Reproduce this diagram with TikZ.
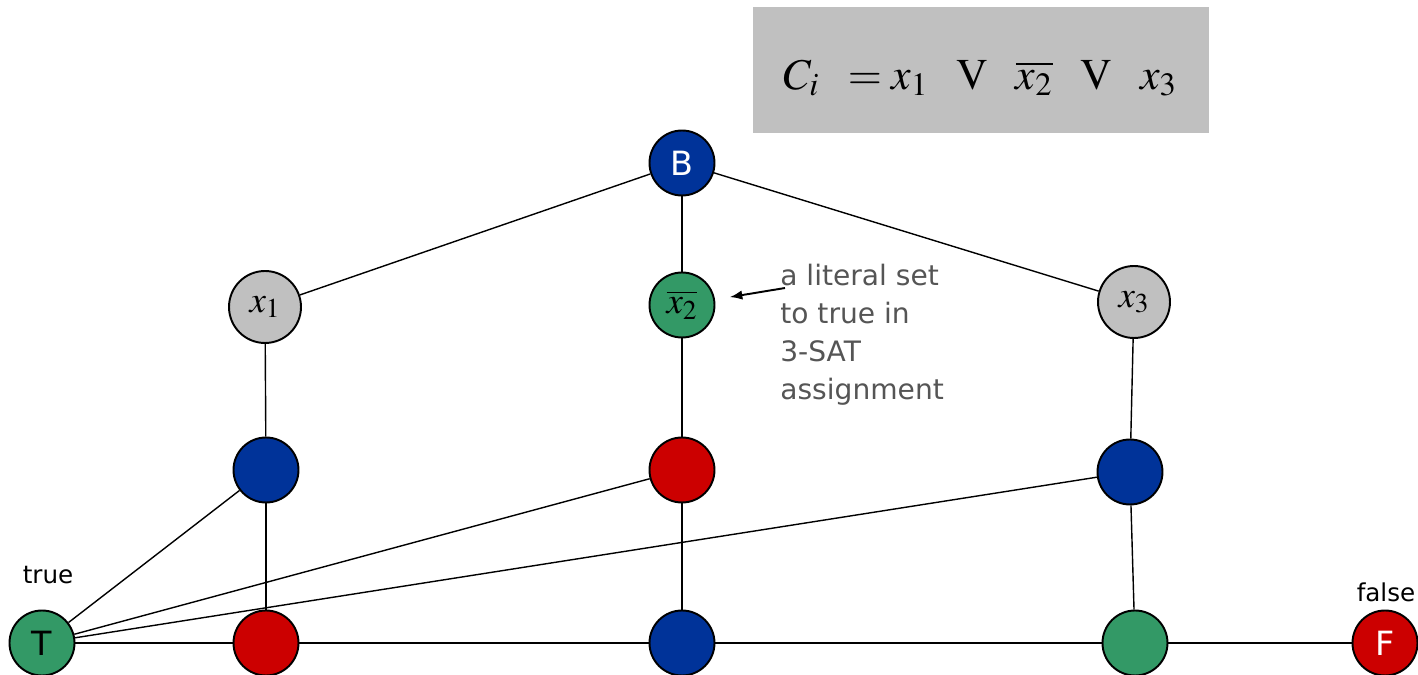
\documentclass[tikz,border=0pt]{standalone}
\usepackage{mathptmx}
\usepackage[no-math]{fontspec}
\setmainfont{DejaVu Sans}
\usepackage{tikz}
\usetikzlibrary{arrows.meta,positioning}
\definecolor{gadgetBlue}{RGB}{0,51,153}
\definecolor{gadgetRed}{RGB}{204,0,0}
\definecolor{gadgetGreen}{RGB}{51,153,102}
\definecolor{gadgetGray}{RGB}{192,192,192}
\definecolor{noteGray}{RGB}{85,85,85}

\tikzset{
  vertex/.style={circle, draw=black, line width=1.1pt, minimum size=1.3cm, inner sep=0pt, font=\fontsize{19}{22}\selectfont, text=white},
  litvertex/.style={vertex, fill=gadgetGray, minimum size=1.44cm, text=black, font=\fontsize{21}{24}\selectfont},
  edge/.style={line width=0.8pt, draw=black},
  sidelabel/.style={font=\fontsize{14}{16}\selectfont}
}

\begin{document}
\begin{tikzpicture}[x=0.02cm, y=-0.02cm]
\useasboundingbox (0,0) rectangle (1418,675);

% clause box
\node[fill=gadgetGray, minimum width=9.12cm, minimum height=2.52cm, inner sep=0pt, font=\fontsize{25}{30}\selectfont] (clause) at (981,70) {};
\node[font=\fontsize{25}{30}\selectfont, inner sep=0pt] (formula) at (980,78)
  {$C_i\ \, = x_1\ \ \mathrm{V}\ \ \overline{x_2}\ \ \mathrm{V}\ \ x_3$};

% base node and literals
\node[vertex, fill=gadgetBlue] (B) at (682,163) {B};
\node[litvertex] (x1) at (265,307) {$x_1$};
\node[vertex, fill=gadgetGreen, text=black, font=\fontsize{21}{24}\selectfont] (x2) at (682,305) {$\overline{x_2}$};
\node[litvertex] (x3) at (1134,302) {$x_3$};

% middle row
\node[vertex, fill=gadgetBlue] (m1) at (266,470) {};
\node[vertex, fill=gadgetRed] (m2) at (682,470) {};
\node[vertex, fill=gadgetBlue] (m3) at (1130,472) {};

% bottom row
\node[vertex, fill=gadgetGreen, text=black] (T) at (42,643) {T};
\node[vertex, fill=gadgetRed] (b1) at (266,643) {};
\node[vertex, fill=gadgetBlue] (b2) at (682,643) {};
\node[vertex, fill=gadgetGreen] (b3) at (1135,643) {};
\node[vertex, fill=gadgetRed] (F) at (1385,643) {F};

\node[sidelabel] (truelbl) at (48,575) {true};
\node[sidelabel] (falselbl) at (1386,592) {false};

% annotation
\node[text=noteGray, align=left, anchor=north west, inner sep=0pt, font=\fontsize{16}{21.5}\selectfont] (note) at (780,264)
  {a literal set\\to true in\\3-SAT\\assignment};
\coordinate (noteTip) at (785,288);

\draw[edge] (B) -- (x1);
\draw[edge] (B) -- (x2);
\draw[edge] (B) -- (x3);
\draw[edge] (x1) -- (m1);
\draw[edge] (x2) -- (m2);
\draw[edge] (x3) -- (m3);
\draw[edge] (m1) -- (b1);
\draw[edge] (m2) -- (b2);
\draw[edge] (m3) -- (b3);
\draw[edge] (T) -- (m1);
\draw[edge] (T) -- (m2);
\draw[edge] (T) -- (m3);
\draw[edge] (T) -- (b1) -- (b2) -- (b3) -- (F);
\draw[edge, line width=1.1pt, -{Latex[length=2.5mm]}, shorten >=0.3cm] (noteTip) -- (x2);
\end{tikzpicture}
\end{document}
